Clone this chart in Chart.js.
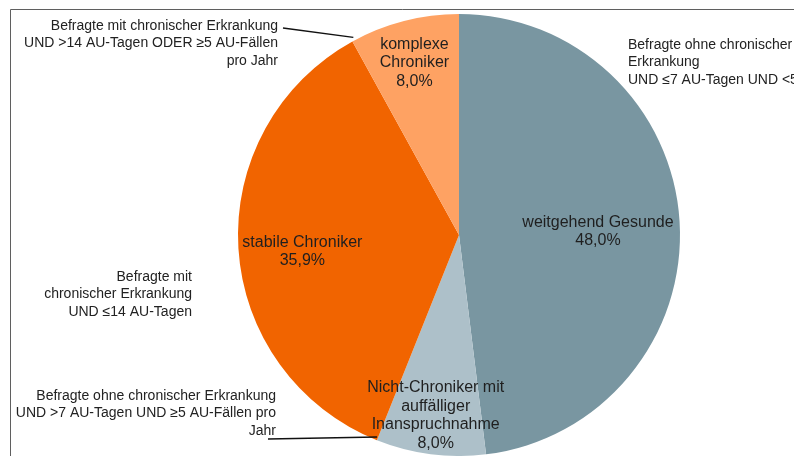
<!DOCTYPE html>
<html lang="de">
<head>
<meta charset="utf-8">
<title>Versichertengruppen</title>
<script src="https://cdn.jsdelivr.net/npm/chart.js@4/dist/chart.umd.min.js"></script>
<style>
  html, body { margin: 0; padding: 0; background: #fff; }
  #wrap { width: 794px; height: 456px; position: relative; }
</style>
</head>
<body>
<div id="wrap"><canvas id="pie" width="794" height="456"></canvas></div>
<script>
// Gruppen im Uhrzeigersinn ab 12 Uhr
const groupNames = [
  ['weitgehend Gesunde'],
  ['Nicht-Chroniker mit', 'auffälliger', 'Inanspruchnahme'],
  ['stabile Chroniker'],
  ['komplexe', 'Chroniker']
];
const groupShares = [48.0, 8.0, 35.9, 8.0];
const groupColors = ['#7996a1', '#adc0c9', '#f16400', '#fea263'];

// Definitionen der Gruppen (Randtexte)
const noteKomplex = ['Befragte mit chronischer Erkrankung', 'UND >14 AU-Tagen ODER ≥5 AU-Fällen', 'pro Jahr'];
const noteGesund = ['Befragte ohne chronischer', 'Erkrankung', 'UND ≤7 AU-Tagen UND <5 AU-Fällen pro Jahr'];
const noteStabil = ['Befragte mit', 'chronischer Erkrankung', 'UND ≤14 AU-Tagen'];
const noteAuffaellig = ['Befragte ohne chronischer Erkrankung', 'UND >7 AU-Tagen UND ≥5 AU-Fällen pro', 'Jahr'];

const FONT = '"Liberation Sans", Arial, sans-serif';

const fmtPct = v => v.toFixed(1).replace('.', ',') + '%';

// Lage der Beschriftung im Segment: Anteil des Radius + kleine vertikale Korrektur
const labelPlace = [
  { r: 0.63, dy: 5 },
  { r: 0.82, dy: 1 },
  { r: 0.71, dy: 7 },
  { r: 0.81, dy: 1 }
];

const notes = [
  { lines: noteKomplex, x: 278, y: 26, align: 'right', leader: { from: [283, 28], slice: 3, edge: 'start', da: 0.012, dr: 3 } },
  { lines: noteGesund, x: 628, y: 45, align: 'left' },
  { lines: noteStabil, x: 192, y: 277, align: 'right' },
  { lines: noteAuffaellig, x: 276, y: 396, align: 'right', leader: { from: [268, 439], slice: 2, edge: 'start', da: 0.005, dr: -3 } }
];

const framePlugin = {
  id: 'frame',
  beforeDraw(chart) {
    const ctx = chart.ctx;
    ctx.save();
    ctx.strokeStyle = '#5f5f5f';
    ctx.lineWidth = 1;
    ctx.beginPath();
    ctx.moveTo(10.5, chart.height);
    ctx.lineTo(10.5, 9.5);
    ctx.lineTo(chart.width, 9.5);
    ctx.stroke();
    ctx.restore();
  }
};

const sliceLabels = {
  id: 'sliceLabels',
  afterDatasetsDraw(chart) {
    const ctx = chart.ctx;
    const arcs = chart.getDatasetMeta(0).data;
    ctx.save();
    ctx.fillStyle = '#1f1f1f';
    ctx.font = '16px ' + FONT;
    ctx.textAlign = 'center';
    ctx.textBaseline = 'middle';
    arcs.forEach((arc, i) => {
      const p = arc.getProps(['x', 'y', 'startAngle', 'endAngle', 'outerRadius'], true);
      const mid = (p.startAngle + p.endAngle) / 2;
      const rr = p.outerRadius * labelPlace[i].r;
      const cx = p.x + Math.cos(mid) * rr;
      const cy = p.y + Math.sin(mid) * rr + labelPlace[i].dy;
      const lines = groupNames[i].concat([fmtPct(groupShares[i])]);
      const lh = 18.5;
      const top = cy - (lines.length - 1) * lh / 2;
      lines.forEach((t, k) => ctx.fillText(t, cx, top + k * lh));
    });

    // Randtexte mit Führungslinien
    ctx.font = '14px ' + FONT;
    ctx.fillStyle = '#222';
    notes.forEach(n => {
      ctx.textAlign = n.align;
      n.lines.forEach((t, k) => ctx.fillText(t, n.x, n.y + k * 17.5));
      if (n.leader) {
        const L = n.leader;
        const p = arcs[L.slice].getProps(['x', 'y', 'startAngle', 'endAngle', 'outerRadius'], true);
        const a = (L.edge === 'start' ? p.startAngle : p.endAngle) + L.da;
        const r = p.outerRadius + L.dr;
        ctx.strokeStyle = '#111';
        ctx.lineWidth = 1.3;
        ctx.beginPath();
        ctx.moveTo(L.from[0], L.from[1]);
        ctx.lineTo(p.x + Math.cos(a) * r, p.y + Math.sin(a) * r);
        ctx.stroke();
      }
    });
    ctx.restore();
  }
};

new Chart(document.getElementById('pie'), {
  type: 'pie',
  data: {
    labels: groupNames.map(n => n.join(' ')),
    datasets: [{
      data: groupShares,
      backgroundColor: groupColors,
      borderWidth: 0
    }]
  },
  options: {
    responsive: false,
    animation: false,
    layout: { padding: { left: 124, right: 0, top: 14, bottom: 0 } },
    plugins: {
      legend: { display: false },
      tooltip: { enabled: false }
    }
  },
  plugins: [framePlugin, sliceLabels]
});
</script>
</body>
</html>
